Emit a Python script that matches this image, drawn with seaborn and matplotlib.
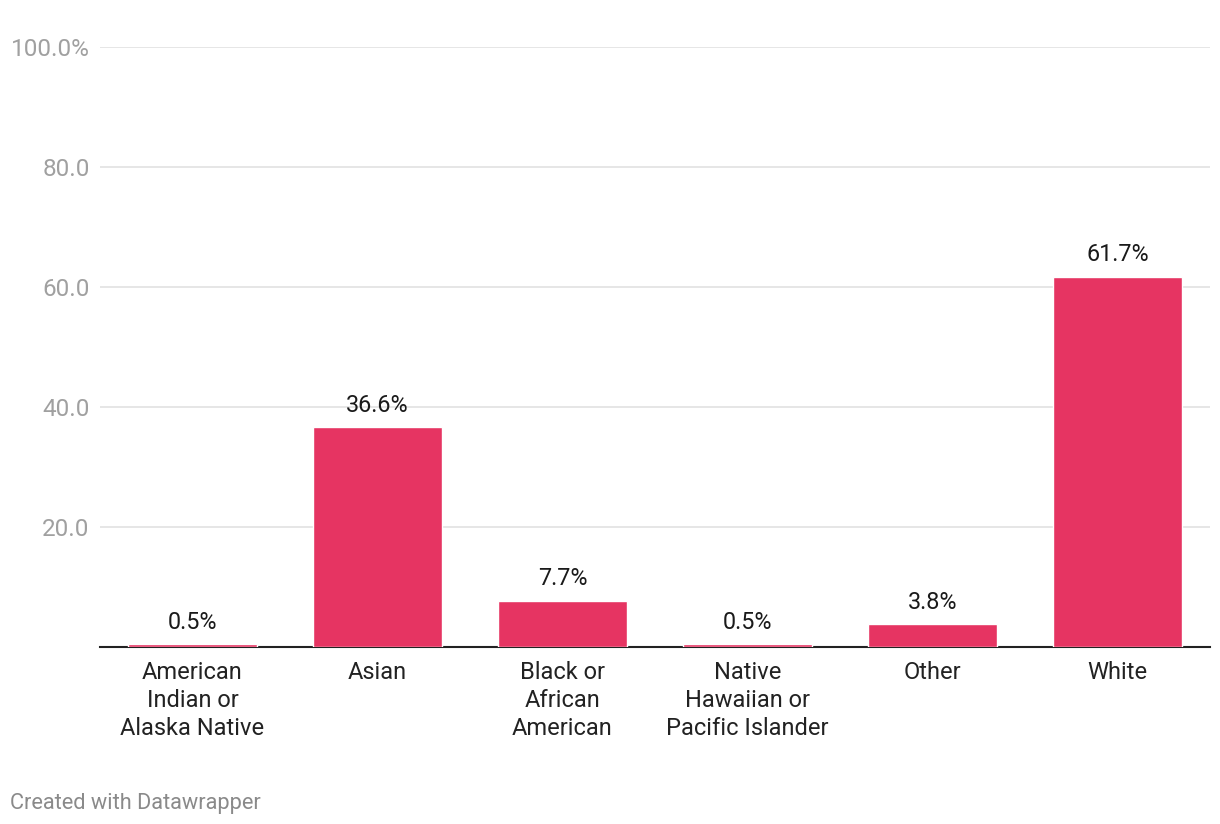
import pandas as pd
import seaborn as sns
import matplotlib.pyplot as plt

categories = ["American\nIndian or\nAlaska Native", "Asian", "Black or\nAfrican\nAmerican",
              "Native\nHawaiian or\nPacific Islander", "Other", "White"]
shares = [0.5, 36.6, 7.7, 0.5, 3.8, 61.7]
ytick_vals = [20, 40, 60, 80, 100]
ytick_labels = ["20.0", "40.0", "60.0", "80.0", "100.0%"]

sns.set_style("white")
plt.rcParams["font.family"] = ["Roboto", "DejaVu Sans"]

data = pd.DataFrame({"race": categories, "share": shares})

fig = plt.figure(figsize=(12.2, 8.24), dpi=100)
ax = fig.add_axes([100 / 1220, 177 / 824, 1110 / 1220, 600 / 824])

sns.barplot(data=data, x="race", y="share", color="#e63462", width=0.7,
            saturation=1, ax=ax, zorder=3)

ax.set_ylim(0, 100)
ax.set_yticks(ytick_vals)
ax.set_yticklabels(ytick_labels)
ax.yaxis.grid(True, color="#e2e2e2", linewidth=1.2, zorder=0)
ax.tick_params(axis="y", length=0, pad=7.5, labelsize=17.5, labelcolor="#a0a0a0")
ax.tick_params(axis="x", length=0, pad=10, labelsize=17, labelcolor="#222222")
for lab in ax.get_xticklabels():
    lab.set_linespacing(1.29)
ax.set_xlabel("")
ax.set_ylabel("")
for s in ["top", "right", "left"]:
    ax.spines[s].set_visible(False)
ax.spines["bottom"].set_color("#222222")
ax.spines["bottom"].set_linewidth(1.5)
ax.spines["bottom"].set_zorder(2)

for i, v in enumerate(shares):
    ax.annotate(f"{v:.1f}%", (i, v), xytext=(0, 7.5), textcoords="offset points",
                ha="center", va="bottom", fontsize=16.8, color="#1a1a1a")

fig.text(10 / 1220, 1 - 803 / 824, "Created with Datawrapper", fontsize=15.7,
         color="#8a8a8a", va="center", ha="left")

plt.savefig("out.png", dpi=100)
